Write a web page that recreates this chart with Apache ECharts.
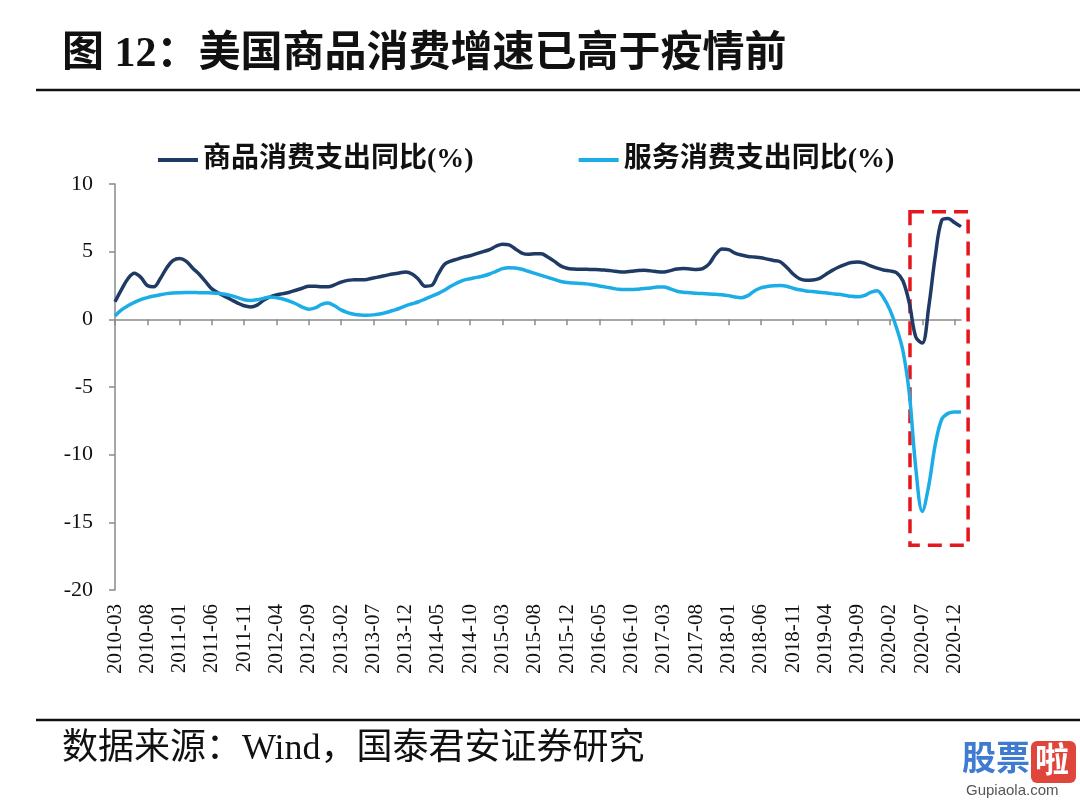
<!DOCTYPE html>
<html>
<head>
<meta charset="utf-8">
<script src="https://cdn.jsdelivr.net/npm/echarts@6/dist/echarts.min.js"></script>
<style>
html,body{margin:0;padding:0;background:#fff;}
#c{width:1080px;height:801px;}
</style>
</head>
<body>
<div id="c"></div>
<script>
// ---- data ----
const categories = [
'2010-03','2010-04','2010-05','2010-06','2010-07','2010-08','2010-09','2010-10','2010-11','2010-12',
'2011-01','2011-02','2011-03','2011-04','2011-05','2011-06','2011-07','2011-08','2011-09','2011-10','2011-11','2011-12',
'2012-01','2012-02','2012-03','2012-04','2012-05','2012-06','2012-07','2012-08','2012-09','2012-10','2012-11','2012-12',
'2013-01','2013-02','2013-03','2013-04','2013-05','2013-06','2013-07','2013-08','2013-09','2013-10','2013-11','2013-12',
'2014-01','2014-02','2014-03','2014-04','2014-05','2014-06','2014-07','2014-08','2014-09','2014-10','2014-11','2014-12',
'2015-01','2015-02','2015-03','2015-04','2015-05','2015-06','2015-07','2015-08','2015-09','2015-10','2015-11','2015-11','2015-12',
'2016-01','2016-02','2016-03','2016-04','2016-05','2016-06','2016-07','2016-08','2016-09','2016-10','2016-11','2016-12',
'2017-01','2017-02','2017-03','2017-04','2017-05','2017-06','2017-07','2017-08','2017-09','2017-10','2017-11','2017-12',
'2018-01','2018-02','2018-03','2018-04','2018-05','2018-06','2018-07','2018-08','2018-09','2018-10','2018-11','2018-12',
'2019-01','2019-02','2019-03','2019-04','2019-05','2019-06','2019-07','2019-08','2019-09','2019-10','2019-11','2019-12',
'2020-01','2020-02','2020-03','2020-04','2020-05','2020-06','2020-07','2020-08','2020-09','2020-10','2020-11','2020-12',
'2021-01'
];
const goodsYoY = [
1.3,2.2,3.0,3.4,3.1,2.5,2.4,3.0,3.8,4.35,
4.5,4.3,3.8,3.35,2.8,2.25,1.95,1.7,1.45,1.2,
1.0,0.92,1.05,1.4,1.65,1.8,1.9,2.0,2.15,2.3,
2.45,2.45,2.4,2.4,2.55,2.75,2.88,2.92,2.93,2.95,
3.05,3.15,3.25,3.35,3.42,3.5,3.35,2.95,2.45,2.5,
3.3,4.05,4.3,4.45,4.6,4.7,4.85,5.0,5.15,5.4,
5.55,5.5,5.2,4.9,4.8,4.85,4.85,4.6,4.3,3.95,
3.78,3.72,3.7,3.7,3.68,3.67,3.63,3.58,3.52,3.5,
3.55,3.6,3.62,3.58,3.52,3.5,3.6,3.72,3.75,3.72,
3.68,3.75,4.1,4.8,5.2,5.15,4.9,4.75,4.65,4.6,
4.55,4.45,4.35,4.25,3.85,3.35,3.0,2.88,2.9,3.0,
3.3,3.6,3.85,4.05,4.2,4.24,4.15,3.95,3.78,3.65,
3.58,3.45,2.85,1.2,-1.3,-1.75,0.9,4.6,7.3,7.45,
7.15,6.85
];
const servicesYoY = [
0.25,0.7,1.0,1.25,1.45,1.6,1.72,1.82,1.9,1.95,
1.97,1.98,1.98,1.97,1.96,1.95,1.92,1.85,1.75,1.6,
1.45,1.4,1.45,1.55,1.65,1.6,1.5,1.35,1.15,0.9,
0.75,0.85,1.1,1.2,1.0,0.7,0.5,0.38,0.32,0.3,
0.33,0.4,0.5,0.65,0.8,1.0,1.15,1.3,1.5,1.7,
1.9,2.15,2.45,2.7,2.9,3.0,3.1,3.2,3.35,3.55,
3.75,3.82,3.8,3.7,3.55,3.4,3.25,3.1,2.95,2.8,
2.72,2.68,2.65,2.62,2.55,2.47,2.38,2.3,2.22,2.2,
2.2,2.23,2.27,2.32,2.38,2.38,2.25,2.08,2.0,1.97,
1.93,1.9,1.88,1.85,1.82,1.75,1.65,1.6,1.75,2.1,
2.32,2.42,2.48,2.5,2.45,2.3,2.18,2.1,2.05,2.0,
1.96,1.9,1.85,1.78,1.7,1.66,1.75,2.0,2.12,1.6,
0.7,-0.6,-2.3,-5.5,-11.0,-14.2,-12.3,-9.3,-7.4,-6.95,
-6.85,-6.85
];
const seriesNames = ['商品消费支出同比(%)','服务消费支出同比(%)'];
const yTicks = {min:-20, max:10, interval:5};

// ---- chart ----
const serif = "'Liberation Serif','Times New Roman','Noto Sans CJK SC',serif";
const chart = echarts.init(document.getElementById('c'));
const option = {
  backgroundColor:'#fff',
  animation:false,
  grid:{left:115, right:119, top:184, bottom:211, containLabel:false},
  legend:{
    left:158, top:146, icon:'rect', itemWidth:40, itemHeight:4, itemGap:105, padding:0,
    textStyle:{fontFamily:serif, fontSize:28, fontWeight:'bold', color:'#111'}
  },
  xAxis:[{
    type:'category', data:categories, boundaryGap:false, position:'bottom',
    axisLine:{show:false, onZero:false}, axisTick:{show:false},
    axisLabel:{interval:4, rotate:90, margin:14, fontFamily:serif, fontSize:21, color:'#111'}
  },{
    type:'category', data:categories, boundaryGap:false, position:'bottom',
    axisLine:{show:true, onZero:true, lineStyle:{color:'#8a8a8a', width:1.5}},
    axisTick:{show:true, interval:4, length:6, lineStyle:{color:'#8a8a8a', width:1.5}},
    axisLabel:{show:false}
  }],
  yAxis:{
    type:'value', min:yTicks.min, max:yTicks.max, interval:yTicks.interval,
    axisLine:{show:true, lineStyle:{color:'#8a8a8a', width:1.5}},
    axisTick:{show:true, length:6, lineStyle:{color:'#8a8a8a', width:1.5}},
    splitLine:{show:false},
    axisLabel:{margin:22, fontFamily:serif, fontSize:22, color:'#111'}
  },
  series:[{
    name:seriesNames[0], type:'line', data:goodsYoY, smooth:0.35, symbol:'none',
    xAxisIndex:0, lineStyle:{width:3.5, color:'#1F3A64'}, itemStyle:{color:'#1F3A64'}
  },{
    name:seriesNames[1], type:'line', data:servicesYoY, smooth:0.35, symbol:'none',
    xAxisIndex:0, lineStyle:{width:3.5, color:'#1DADE6'}, itemStyle:{color:'#1DADE6'}
  }]
};
chart.setOption(option);

// annotation box anchored to data coordinates
const p0 = chart.convertToPixel({xAxisIndex:0, yAxisIndex:0}, [123, 7.95]);
const p1 = chart.convertToPixel({xAxisIndex:0, yAxisIndex:0}, [131, -16.7]);
const step = chart.convertToPixel({xAxisIndex:0}, 131) - chart.convertToPixel({xAxisIndex:0}, 130);

chart.setOption({
  graphic:[
    {type:'text', left:62, top:34, style:{text:'图 12：美国商品消费增速已高于疫情前', font:"bold 42px 'Liberation Serif','Noto Sans CJK SC',serif", fill:'#111'}},
    {type:'line', shape:{x1:36, y1:90, x2:1080, y2:90}, style:{stroke:'#111', lineWidth:2.5}},
    {type:'line', shape:{x1:36, y1:720, x2:1080, y2:720}, style:{stroke:'#111', lineWidth:2.5}},
    {type:'text', left:62, top:732, style:{text:'数据来源：Wind，国泰君安证券研究', font:"36px 'Liberation Serif','Noto Sans CJK SC',serif", fill:'#111'}},
    {type:'rect', shape:{x:p0[0]+0.1*step, y:p0[1], width:(p1[0]+1.1*step)-(p0[0]+0.1*step), height:p1[1]-p0[1]},
      style:{fill:'none', stroke:'#E5161C', lineWidth:3.5, lineDash:[14,8]}},
    {type:'text', left:962, top:740, style:{text:'股票', font:"bold 34px 'Noto Sans CJK SC'", fill:'#3F7BD1'}},
    {type:'rect', shape:{x:1031, y:741, width:45, height:42, r:6}, style:{fill:'#E0453C'}},
    {type:'text', left:1035, top:742, style:{text:'啦', font:"bold 34px 'Noto Sans CJK SC'", fill:'#fff'}},
    {type:'text', left:966, top:783, style:{text:'Gupiaola.com', font:"15px 'Liberation Sans Narrow','Liberation Sans',sans-serif", fill:'#555'}}
  ]
});
</script>
</body>
</html>
